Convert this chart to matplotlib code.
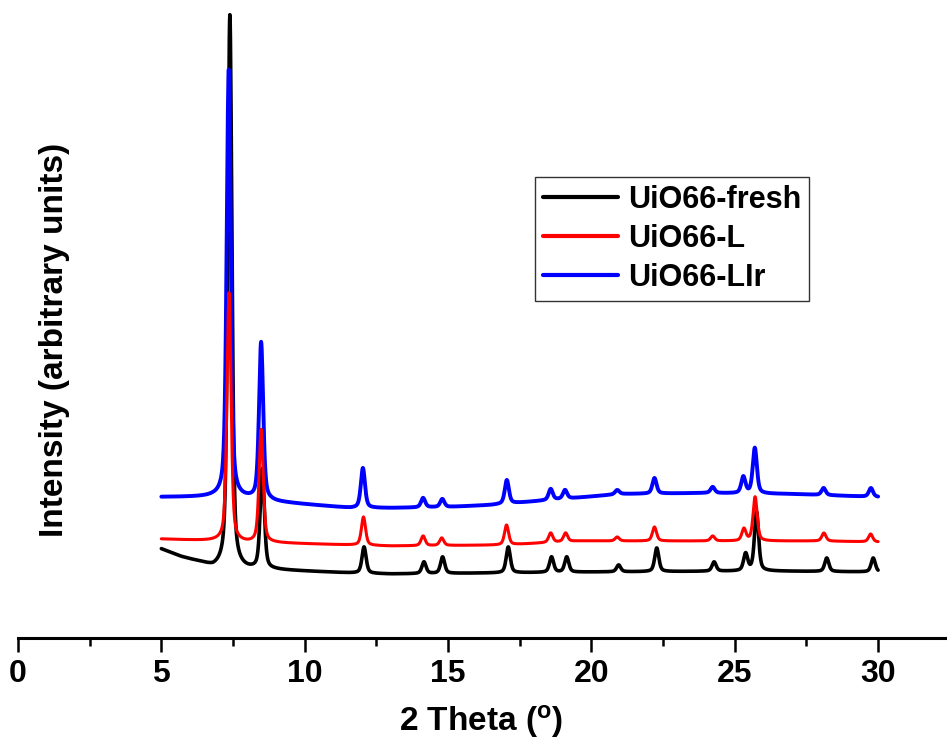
#!/usr/bin/env python3

# XRD patterns of UiO66 samples
# Usage:
#   $ python3 plot.py

import matplotlib
matplotlib.use('Agg')
import matplotlib.pyplot as plt
import numpy as np

# Values, in pixel rows of the original figure
# (0 = top edge, 638 = x axis); converted to intensity below.

# UiO66-fresh
fresh_base_x = [5.0, 5.7, 6.4, 6.8, 8.0, 9.0, 11.6, 13.0, 20.0, 26.0, 30.0]
fresh_base_px = [549, 557, 563, 568, 570, 570, 573, 574, 572, 571, 572]
fresh_peak_x = [7.39, 8.52, 12.07, 14.16, 14.81, 17.10, 18.61, 19.14,
                20.95, 22.28, 24.28, 25.38, 25.76, 28.21, 29.83]
fresh_peak_px = [15, 470, 547, 562, 557, 547, 557, 557,
                 565, 548, 562, 554, 512, 558, 558]

# UiO66-L
l_base_x = [5.0, 6.8, 8.0, 9.0, 11.6, 13.0, 17.0, 19.5, 22.0, 28.0, 30.0]
l_base_px = [539, 541, 543, 543, 545, 546, 545, 541, 541, 541, 542]
l_peak_x = [7.36, 8.48, 12.05, 14.13, 14.78, 17.04, 18.58, 19.10,
            20.90, 22.20, 24.23, 25.32, 25.71, 28.11, 29.74]
l_peak_px = [293, 430, 517, 536, 538, 525, 533, 533,
             537, 527, 536, 529, 497, 533, 534]

# UiO66-LIr
lir_base_x = [5.0, 6.8, 8.0, 9.0, 11.6, 13.0, 15.0, 16.5, 19.0, 21.0, 24.0, 27.0, 30.0]
lir_base_px = [497, 497, 499, 502, 508, 508, 507, 505, 499, 494, 493, 494, 497]
lir_peak_x = [7.35, 8.48, 12.03, 14.13, 14.80, 17.05, 18.58, 19.08,
              20.90, 22.20, 24.23, 25.30, 25.70, 28.10, 29.75]
lir_peak_px = [70, 343, 468, 498, 499, 480, 489, 490,
               490, 478, 487, 477, 448, 488, 488]

labels = ['UiO66-fresh', 'UiO66-L', 'UiO66-LIr']
colors = ['black', 'red', 'blue']

AXIS_PX = 638


def pattern(tt, base_x, base_px, peak_x, peak_px, fwhm=0.17, eta=0.5):
  base = AXIS_PX - np.interp(tt, base_x, base_px)
  y = base.copy()
  for c, top in zip(peak_x, peak_px):
    h = (AXIS_PX - top) - (AXIS_PX - np.interp(c, base_x, base_px))
    d = 2 * (tt - c) / fwhm
    lor = 1 / (1 + d ** 2)
    gau = np.exp(-np.log(2) * d ** 2)
    y += h * (eta * lor + (1 - eta) * gau)
  return y


def main():
  plt.rcParams['font.family'] = ['Liberation Sans', 'DejaVu Sans']
  plt.rcParams['font.weight'] = 'bold'
  plt.rcParams['mathtext.default'] = 'regular'

  fig = plt.figure(figsize=(9.47, 7.51), dpi=100)
  b = (751 - AXIS_PX) / 751
  ax = fig.add_axes([18 / 947, b, (945 - 18) / 947, 1 - b])

  tt = np.arange(5.0, 30.0001, 0.01)
  series = [
    (fresh_base_x, fresh_base_px, fresh_peak_x, fresh_peak_px),
    (l_base_x, l_base_px, l_peak_x, l_peak_px),
    (lir_base_x, lir_base_px, lir_peak_x, lir_peak_px),
  ]
  zorders = [2, 4, 3]
  widths = [2.6, 2.2, 2.8]
  for s, lbl, col, z, w in zip(series, labels, colors, zorders, widths):
    ax.plot(tt, pattern(tt, *s), color=col, lw=w, label=lbl, zorder=z,
            solid_capstyle='round')

  ax.set_xlim(0, (945 - 18) / 28.67)
  ax.set_ylim(0, AXIS_PX)

  for side in ['left', 'right', 'top']:
    ax.spines[side].set_visible(False)
  ax.spines['bottom'].set_linewidth(2.2)
  ax.set_yticks([])
  ax.set_xticks(np.arange(0, 31, 5))
  ax.set_xticks(np.arange(2.5, 31, 5), minor=True)
  ax.tick_params(axis='x', which='major', direction='out', length=10, width=1.8,
                 labelsize=23, pad=5)
  ax.tick_params(axis='x', which='minor', direction='out', length=6, width=1.8)
  ax.patch.set_alpha(0)

  ax.set_xlabel('2 Theta ($^\\mathregular{o}$)', fontsize=24, fontweight='bold',
                labelpad=10)
  fig.text(55 / 947, 1 - 340 / 751, 'Intensity (arbitrary units)', rotation=90,
           ha='center', va='center', fontsize=24, fontweight='bold')

  leg = ax.legend(loc='upper left', bbox_to_anchor=(535 / 947, 1 - 177 / 751),
                  bbox_transform=fig.transFigure, fontsize=22, frameon=True,
                  fancybox=False, borderaxespad=0, borderpad=0.25,
                  handlelength=2.45, handletextpad=0.35, labelspacing=0.3)
  leg.get_frame().set_edgecolor('black')
  leg.get_frame().set_linewidth(1.0)
  for line in leg.get_lines():
    line.set_linewidth(3)

  fig.savefig('out.png', dpi=100)


if __name__ == '__main__':
  main()
